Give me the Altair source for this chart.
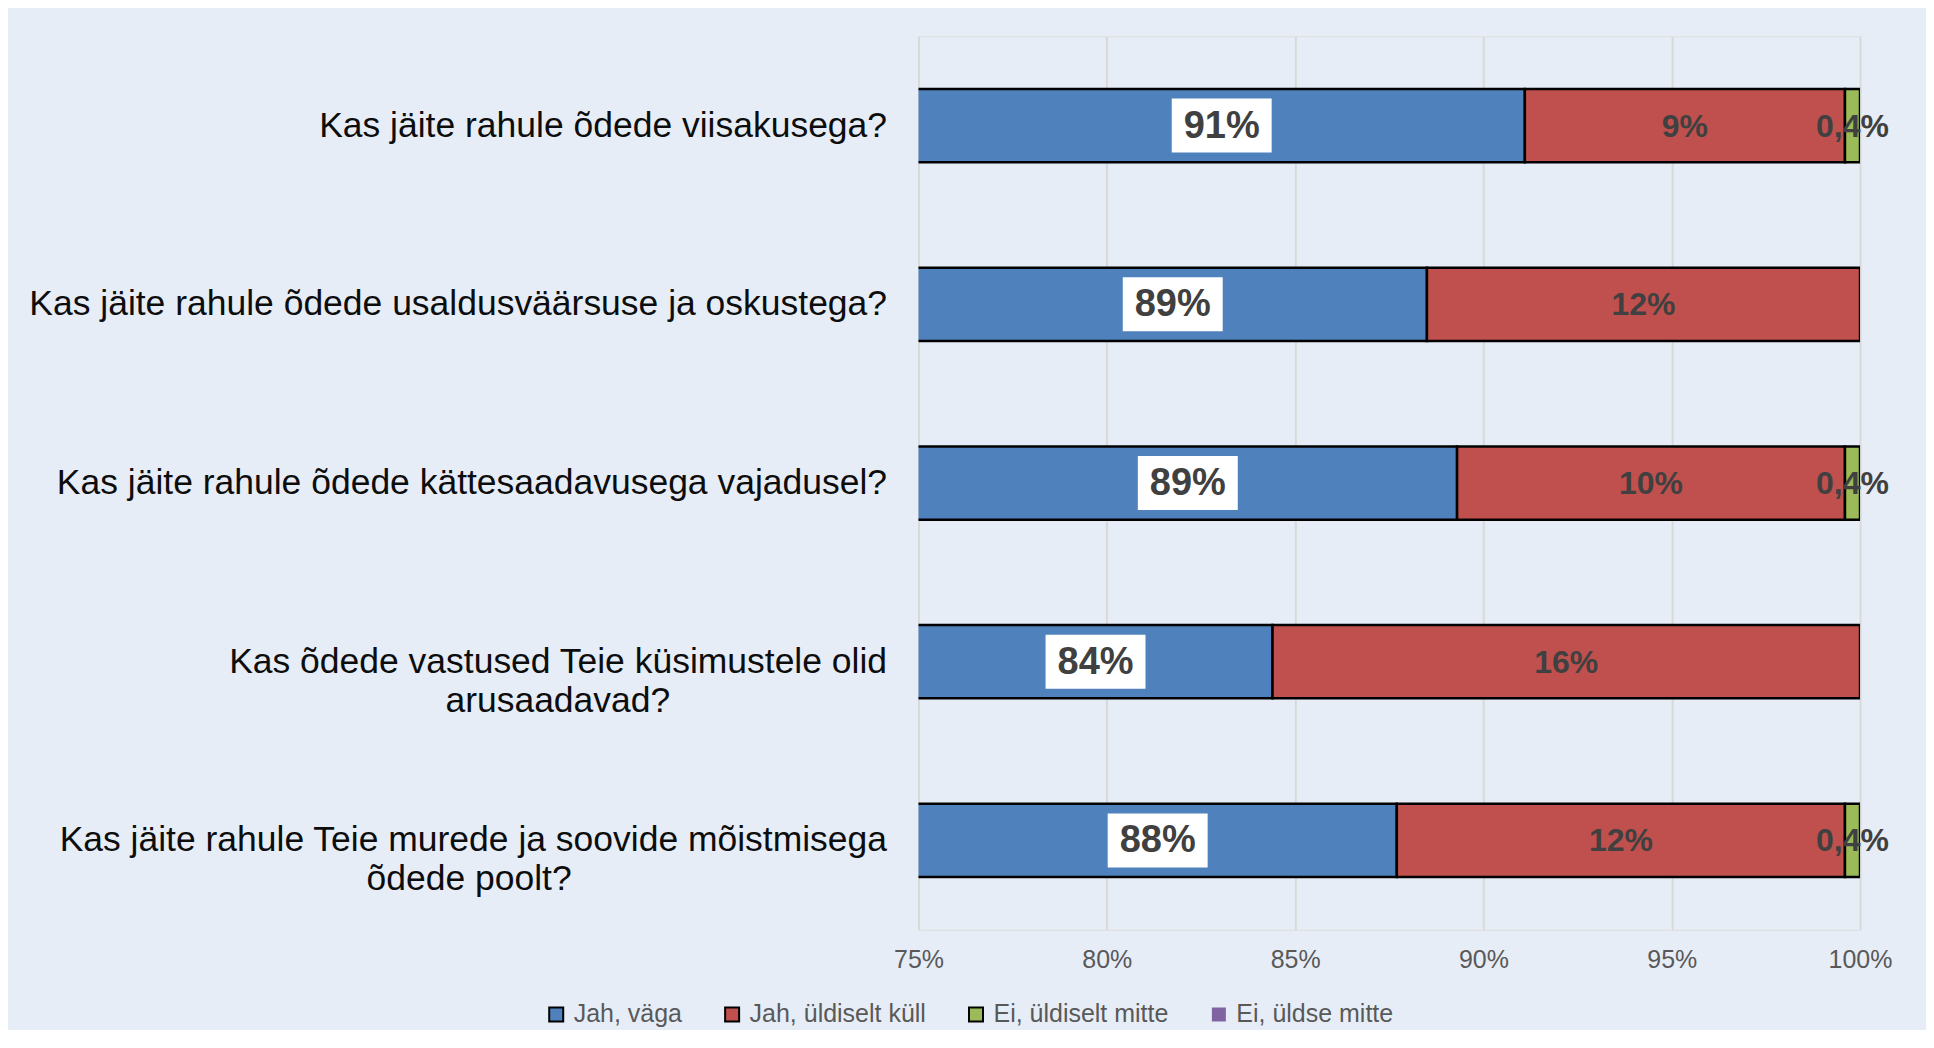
import altair as alt
import pandas as pd

NBSP = "\u00a0"
ZWSP = "\u200b"  # keeps the trailing spaces from being trimmed

# Questions (line breaks where the reference wraps)
questions = [
    "Kas jäite rahule õdede viisakusega?",
    "Kas jäite rahule õdede usaldusväärsuse ja oskustega?",
    "Kas jäite rahule õdede kättesaadavusega vajadusel?",
    "Kas õdede vastused Teie küsimustele olid\narusaadavad?",
    "Kas jäite rahule Teie murede ja soovide mõistmisega\nõdede poolt?",
]
# trailing non-breaking spaces so the short second line sits centred
second_line_pad = [0, 0, 0, 22, 32]

series = ["Jah, väga", "Jah, üldiselt küll", "Ei, üldiselt mitte", "Ei, üldse mitte"]
colors = ["#4F81BD", "#C0504D", "#9BBB59", "#8064A2"]

jah_vaga = [91.1, 88.5, 89.3, 84.4, 87.7]
jah_uldiselt = [8.5, 11.5, 10.3, 15.6, 11.9]
ei_uldiselt = [0.4, 0.0, 0.4, 0.0, 0.4]
ei_uldse = [0.0, 0.0, 0.0, 0.0, 0.0]

lab_vaga = ["91%", "89%", "89%", "84%", "88%"]
lab_uldiselt = ["9%", "12%", "10%", "16%", "12%"]
lab_ei = ["0,4%", "", "0,4%", "", "0,4%"]
lab_ei_uldse = ["", "", "", "", ""]

display = [q + (NBSP * p + ZWSP if p else "") for q, p in zip(questions, second_line_pad)]

rows = []
for i, q in enumerate(display):
    start = 0.0
    for s, vals, labs in zip(series,
                             [jah_vaga, jah_uldiselt, ei_uldiselt, ei_uldse],
                             [lab_vaga, lab_uldiselt, lab_ei, lab_ei_uldse]):
        v = vals[i]
        rows.append({"question": q, "series": s, "value": v,
                     "start": start, "end": start + v, "label": labs[i]})
        start += v
df = pd.DataFrame(rows)

y_enc = alt.Y(
    "question:N", sort=display, title=None,
    scale=alt.Scale(paddingInner=0.59, paddingOuter=0.295),
    axis=alt.Axis(labelExpr="split(datum.label, '\\n')", labelFontSize=35.5,
                  labelLineHeight=39, labelPadding=32, labelColor="#0D0D0D",
                  labelFont="Liberation Sans", labelAlign="right", labelLimit=0,
                  domain=False, ticks=False, grid=False),
)
x_scale = alt.Scale(domain=[75, 100], nice=False, zero=False)
x_axis = alt.Axis(values=[75, 80, 85, 90, 95, 100], labelExpr="datum.value + '%'",
                  grid=True, gridColor="#D9D9D9", gridWidth=2, domain=False,
                  ticks=False, labelFontSize=25, labelColor="#595959",
                  labelFont="Liberation Sans", labelPadding=18, labelFlush=False,
                  title=None)

legend_kw = dict(orient="none", legendX=-375, legendY=966, direction="horizontal",
                 title=None, symbolType="square", symbolSize=196,
                 symbolStrokeWidth=2, labelFontSize=25, labelFont="Liberation Sans",
                 labelColor="#595959", columnPadding=37, labelOffset=5,
                 labelLimit=0, columns=4)

base = alt.Chart(df).transform_filter("datum.value > 0").transform_calculate(
    mid="(max(datum.start, 75) + datum.end) / 2"
)

bars = base.mark_bar(clip=True, strokeWidth=2.5).encode(
    x=alt.X("start:Q", scale=x_scale, axis=x_axis),
    x2="end:Q",
    y=y_enc,
    color=alt.Color("series:N", scale=alt.Scale(domain=series, range=colors),
                    legend=alt.Legend(**legend_kw)),
    stroke=alt.Stroke("series:N",
                      scale=alt.Scale(domain=series,
                                      range=["#000000", "#000000", "#000000", "transparent"]),
                      legend=alt.Legend(**legend_kw)),
)

boxes = base.transform_filter(alt.datum.series == series[0]).mark_point(
    shape="M-1,-0.54H1V0.54H-1Z", size=10000, filled=True, fill="white",
    opacity=1, strokeWidth=0
).encode(x=alt.X("mid:Q", scale=x_scale, axis=x_axis), y=y_enc)

big_labels = base.transform_filter(alt.datum.series == series[0]).mark_text(
    fontSize=38, fontWeight="bold", color="#404040", font="Liberation Sans",
    baseline="middle", dy=1
).encode(x=alt.X("mid:Q", scale=x_scale, axis=x_axis), y=y_enc, text="label:N")

small_labels = base.transform_filter(alt.datum.series != series[0]).mark_text(
    fontSize=32, fontWeight="bold", color="#404040", font="Liberation Sans",
    baseline="middle", dy=1
).encode(x=alt.X("mid:Q", scale=x_scale, axis=x_axis), y=y_enc, text="label:N")

chart = alt.layer(bars, boxes, big_labels, small_labels).properties(
    width=942, height=894,
    padding={"left": 911, "top": 28, "right": 66, "bottom": 100},
    autosize=alt.AutoSizeParams(type="none"),
    background="#E7EDF7",
).configure_view(stroke=None).configure(font="Liberation Sans")

chart.save("out.html", embed_options={"renderer": "svg", "actions": False})
